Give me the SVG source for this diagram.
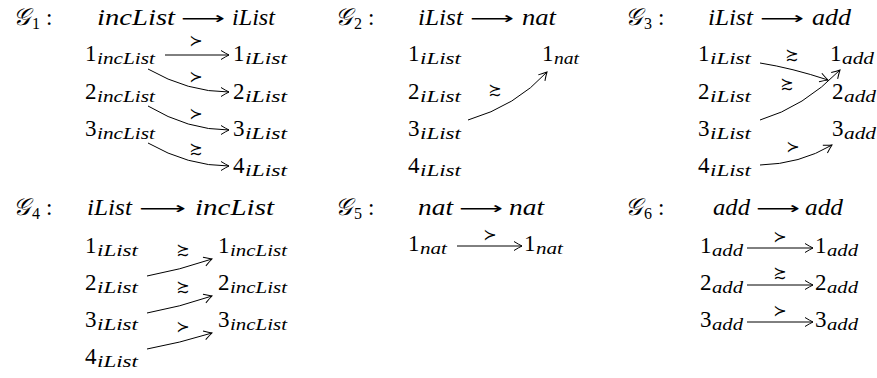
<svg xmlns="http://www.w3.org/2000/svg" width="877" height="378" viewBox="0 0 877 378">
  <defs>
    <style>
      .d { font-family: "Liberation Serif", serif; font-size: 23px; fill: #000; }
      .m { font-family: "Liberation Serif", serif; font-size: 23px; font-style: italic; fill: #000; }
      .s { font-family: "Liberation Serif", serif; font-size: 16px; font-style: italic; fill: #000; }
      .sd { font-family: "Liberation Serif", serif; font-size: 16px; fill: #000; }
      .g { font-family: "DejaVu Serif", "DejaVu Sans", serif; font-size: 24px; font-style: italic; fill: #000; }
      .ar { font-family: "DejaVu Sans ExtraLight", "DejaVu Sans", sans-serif; font-size: 17px; fill: #000; }
      .lab { font-family: "DejaVu Sans ExtraLight", "DejaVu Sans", sans-serif; font-size: 16px; fill: #000; text-anchor: middle; dominant-baseline: central; }
      .edge { fill: none; stroke: #000; stroke-width: 1; marker-end: url(#ah); }
    </style>
    <marker id="ah" markerUnits="userSpaceOnUse" markerWidth="12" markerHeight="12" refX="10" refY="6" orient="auto" viewBox="0 0 12 12">
      <path d="M2,1.5 Q7,4.6 10,6 Q7,7.4 2,10.5" fill="none" stroke="#000" stroke-width="1"/>
    </marker>
  </defs>

  <!-- graph titles -->
  <g id="titles">
    <g id="t1">
      <text class="g" x="13" y="25">𝒢</text><text class="sd" x="32" y="29">1</text><text class="d" x="46" y="25">:</text>
      <text class="m" x="97" y="25" textLength="78" lengthAdjust="spacingAndGlyphs">incList</text>
      <text class="ar" x="181" y="24" textLength="44" lengthAdjust="spacingAndGlyphs">⟶</text>
      <text class="m" x="232" y="25" textLength="43" lengthAdjust="spacingAndGlyphs">iList</text>
    </g>
    <g id="t2">
      <text class="g" x="335" y="25">𝒢</text><text class="sd" x="354" y="29">2</text><text class="d" x="368" y="25">:</text>
      <text class="m" x="418" y="25" textLength="45" lengthAdjust="spacingAndGlyphs">iList</text>
      <text class="ar" x="470" y="24" textLength="44" lengthAdjust="spacingAndGlyphs">⟶</text>
      <text class="m" x="522" y="25" textLength="34" lengthAdjust="spacingAndGlyphs">nat</text>
    </g>
    <g id="t3">
      <text class="g" x="625" y="25">𝒢</text><text class="sd" x="644" y="29">3</text><text class="d" x="658" y="25">:</text>
      <text class="m" x="708" y="25" textLength="45" lengthAdjust="spacingAndGlyphs">iList</text>
      <text class="ar" x="760" y="24" textLength="44" lengthAdjust="spacingAndGlyphs">⟶</text>
      <text class="m" x="812" y="25" textLength="39" lengthAdjust="spacingAndGlyphs">add</text>
    </g>
    <g id="t4">
      <text class="g" x="13" y="215">𝒢</text><text class="sd" x="32" y="219">4</text><text class="d" x="46" y="215">:</text>
      <text class="m" x="87" y="215" textLength="45" lengthAdjust="spacingAndGlyphs">iList</text>
      <text class="ar" x="139" y="214" textLength="47" lengthAdjust="spacingAndGlyphs">⟶</text>
      <text class="m" x="195" y="215" textLength="79" lengthAdjust="spacingAndGlyphs">incList</text>
    </g>
    <g id="t5">
      <text class="g" x="335" y="215">𝒢</text><text class="sd" x="354" y="219">5</text><text class="d" x="368" y="215">:</text>
      <text class="m" x="418" y="215" textLength="35" lengthAdjust="spacingAndGlyphs">nat</text>
      <text class="ar" x="459" y="214" textLength="44" lengthAdjust="spacingAndGlyphs">⟶</text>
      <text class="m" x="509" y="215" textLength="35" lengthAdjust="spacingAndGlyphs">nat</text>
    </g>
    <g id="t6">
      <text class="g" x="625" y="215">𝒢</text><text class="sd" x="644" y="219">6</text><text class="d" x="658" y="215">:</text>
      <text class="m" x="713" y="215" textLength="37" lengthAdjust="spacingAndGlyphs">add</text>
      <text class="ar" x="756" y="214" textLength="44" lengthAdjust="spacingAndGlyphs">⟶</text>
      <text class="m" x="805" y="215" textLength="38" lengthAdjust="spacingAndGlyphs">add</text>
    </g>
  </g>

  <!-- G1 nodes -->
  <g id="g1-incList-1"><text class="d" x="85" y="61">1</text><text class="s" x="97" y="64" textLength="58" lengthAdjust="spacingAndGlyphs">incList</text></g>
  <g id="g1-incList-2"><text class="d" x="85" y="99">2</text><text class="s" x="97" y="102" textLength="58" lengthAdjust="spacingAndGlyphs">incList</text></g>
  <g id="g1-incList-3"><text class="d" x="85" y="136">3</text><text class="s" x="97" y="139" textLength="58" lengthAdjust="spacingAndGlyphs">incList</text></g>
  <g id="g1-iList-1"><text class="d" x="233" y="61">1</text><text class="s" x="245" y="64" textLength="42" lengthAdjust="spacingAndGlyphs">iList</text></g>
  <g id="g1-iList-2"><text class="d" x="233" y="99">2</text><text class="s" x="245" y="102" textLength="42" lengthAdjust="spacingAndGlyphs">iList</text></g>
  <g id="g1-iList-3"><text class="d" x="233" y="136">3</text><text class="s" x="245" y="139" textLength="42" lengthAdjust="spacingAndGlyphs">iList</text></g>
  <g id="g1-iList-4"><text class="d" x="233" y="173">4</text><text class="s" x="245" y="176" textLength="42" lengthAdjust="spacingAndGlyphs">iList</text></g>

  <!-- G2 nodes -->
  <g id="g2-iList-1"><text class="d" x="408" y="61">1</text><text class="s" x="420" y="64" textLength="41" lengthAdjust="spacingAndGlyphs">iList</text></g>
  <g id="g2-iList-2"><text class="d" x="408" y="99">2</text><text class="s" x="420" y="102" textLength="41" lengthAdjust="spacingAndGlyphs">iList</text></g>
  <g id="g2-iList-3"><text class="d" x="408" y="136">3</text><text class="s" x="420" y="139" textLength="41" lengthAdjust="spacingAndGlyphs">iList</text></g>
  <g id="g2-iList-4"><text class="d" x="408" y="173">4</text><text class="s" x="420" y="176" textLength="41" lengthAdjust="spacingAndGlyphs">iList</text></g>
  <g id="g2-nat-1"><text class="d" x="542" y="61">1</text><text class="s" x="554" y="64" textLength="25" lengthAdjust="spacingAndGlyphs">nat</text></g>

  <!-- G3 nodes -->
  <g id="g3-iList-1"><text class="d" x="698" y="61">1</text><text class="s" x="710" y="64" textLength="41" lengthAdjust="spacingAndGlyphs">iList</text></g>
  <g id="g3-iList-2"><text class="d" x="698" y="99">2</text><text class="s" x="710" y="102" textLength="41" lengthAdjust="spacingAndGlyphs">iList</text></g>
  <g id="g3-iList-3"><text class="d" x="698" y="136">3</text><text class="s" x="710" y="139" textLength="41" lengthAdjust="spacingAndGlyphs">iList</text></g>
  <g id="g3-iList-4"><text class="d" x="698" y="173">4</text><text class="s" x="710" y="176" textLength="41" lengthAdjust="spacingAndGlyphs">iList</text></g>
  <g id="g3-add-1"><text class="d" x="830" y="61">1</text><text class="s" x="842" y="64" textLength="32" lengthAdjust="spacingAndGlyphs">add</text></g>
  <g id="g3-add-2"><text class="d" x="832" y="99">2</text><text class="s" x="844" y="102" textLength="32" lengthAdjust="spacingAndGlyphs">add</text></g>
  <g id="g3-add-3"><text class="d" x="832" y="136">3</text><text class="s" x="844" y="139" textLength="32" lengthAdjust="spacingAndGlyphs">add</text></g>

  <!-- G4 nodes -->
  <g id="g4-iList-1"><text class="d" x="85" y="253">1</text><text class="s" x="97" y="256" textLength="41" lengthAdjust="spacingAndGlyphs">iList</text></g>
  <g id="g4-iList-2"><text class="d" x="85" y="290">2</text><text class="s" x="97" y="293" textLength="41" lengthAdjust="spacingAndGlyphs">iList</text></g>
  <g id="g4-iList-3"><text class="d" x="85" y="327">3</text><text class="s" x="97" y="330" textLength="41" lengthAdjust="spacingAndGlyphs">iList</text></g>
  <g id="g4-iList-4"><text class="d" x="85" y="364">4</text><text class="s" x="97" y="367" textLength="41" lengthAdjust="spacingAndGlyphs">iList</text></g>
  <g id="g4-incList-1"><text class="d" x="218" y="253">1</text><text class="s" x="230" y="256" textLength="57" lengthAdjust="spacingAndGlyphs">incList</text></g>
  <g id="g4-incList-2"><text class="d" x="218" y="290">2</text><text class="s" x="230" y="293" textLength="57" lengthAdjust="spacingAndGlyphs">incList</text></g>
  <g id="g4-incList-3"><text class="d" x="218" y="327">3</text><text class="s" x="230" y="330" textLength="57" lengthAdjust="spacingAndGlyphs">incList</text></g>

  <!-- G5 nodes -->
  <g id="g5-nat-src"><text class="d" x="408" y="251">1</text><text class="s" x="420" y="254" textLength="27" lengthAdjust="spacingAndGlyphs">nat</text></g>
  <g id="g5-nat-dst"><text class="d" x="524" y="251">1</text><text class="s" x="536" y="254" textLength="27" lengthAdjust="spacingAndGlyphs">nat</text></g>

  <!-- G6 nodes -->
  <g id="g6-add-src-1"><text class="d" x="700" y="253">1</text><text class="s" x="712" y="256" textLength="31" lengthAdjust="spacingAndGlyphs">add</text></g>
  <g id="g6-add-src-2"><text class="d" x="700" y="290">2</text><text class="s" x="712" y="293" textLength="31" lengthAdjust="spacingAndGlyphs">add</text></g>
  <g id="g6-add-src-3"><text class="d" x="700" y="327">3</text><text class="s" x="712" y="330" textLength="31" lengthAdjust="spacingAndGlyphs">add</text></g>
  <g id="g6-add-dst-1"><text class="d" x="815" y="253">1</text><text class="s" x="827" y="256" textLength="31" lengthAdjust="spacingAndGlyphs">add</text></g>
  <g id="g6-add-dst-2"><text class="d" x="815" y="290">2</text><text class="s" x="827" y="293" textLength="31" lengthAdjust="spacingAndGlyphs">add</text></g>
  <g id="g6-add-dst-3"><text class="d" x="815" y="327">3</text><text class="s" x="827" y="330" textLength="31" lengthAdjust="spacingAndGlyphs">add</text></g>

  <!-- connectors with their order labels -->
  <g id="connectors">
    <!-- G1 -->
    <path class="edge" d="M165,55 L229,55"/>
    <path class="edge" d="M148,69 Q188,92 229,92"/>
    <path class="edge" d="M148,106 Q188,130 229,130"/>
    <path class="edge" d="M148,143 Q188,166 229,166"/>
    <text class="lab" x="196" y="40">≻</text>
    <text class="lab" x="196" y="76">≻</text>
    <text class="lab" x="196" y="113">≻</text>
    <text class="lab" x="196" y="148">≿</text>
    <!-- G2 -->
    <path class="edge" d="M468,120 Q516,106 547,72"/>
    <text class="lab" x="495" y="89">≿</text>
    <!-- G3 -->
    <path class="edge" d="M760,63 Q792,68 828,80"/>
    <path class="edge" d="M760,120 Q804,107 840,70"/>
    <path class="edge" d="M760,165 Q800,164 832,145"/>
    <text class="lab" x="792" y="54">≿</text>
    <text class="lab" x="787" y="83">≿</text>
    <text class="lab" x="793" y="146">≻</text>
    <!-- G4 -->
    <path class="edge" d="M147,276 Q180,270 212,259"/>
    <path class="edge" d="M147,313 Q180,307 212,296"/>
    <path class="edge" d="M147,349 Q180,343 212,333"/>
    <text class="lab" x="183" y="249">≿</text>
    <text class="lab" x="183" y="286">≿</text>
    <text class="lab" x="183" y="326">≻</text>
    <!-- G5 -->
    <path class="edge" d="M457,246 L522,246"/>
    <text class="lab" x="490" y="234">≻</text>
    <!-- G6 -->
    <path class="edge" d="M747,248 L813,248"/>
    <path class="edge" d="M747,285 L813,285"/>
    <path class="edge" d="M747,322 L813,322"/>
    <text class="lab" x="780" y="236">≻</text>
    <text class="lab" x="780" y="272">≿</text>
    <text class="lab" x="780" y="310">≻</text>
  </g>
</svg>
